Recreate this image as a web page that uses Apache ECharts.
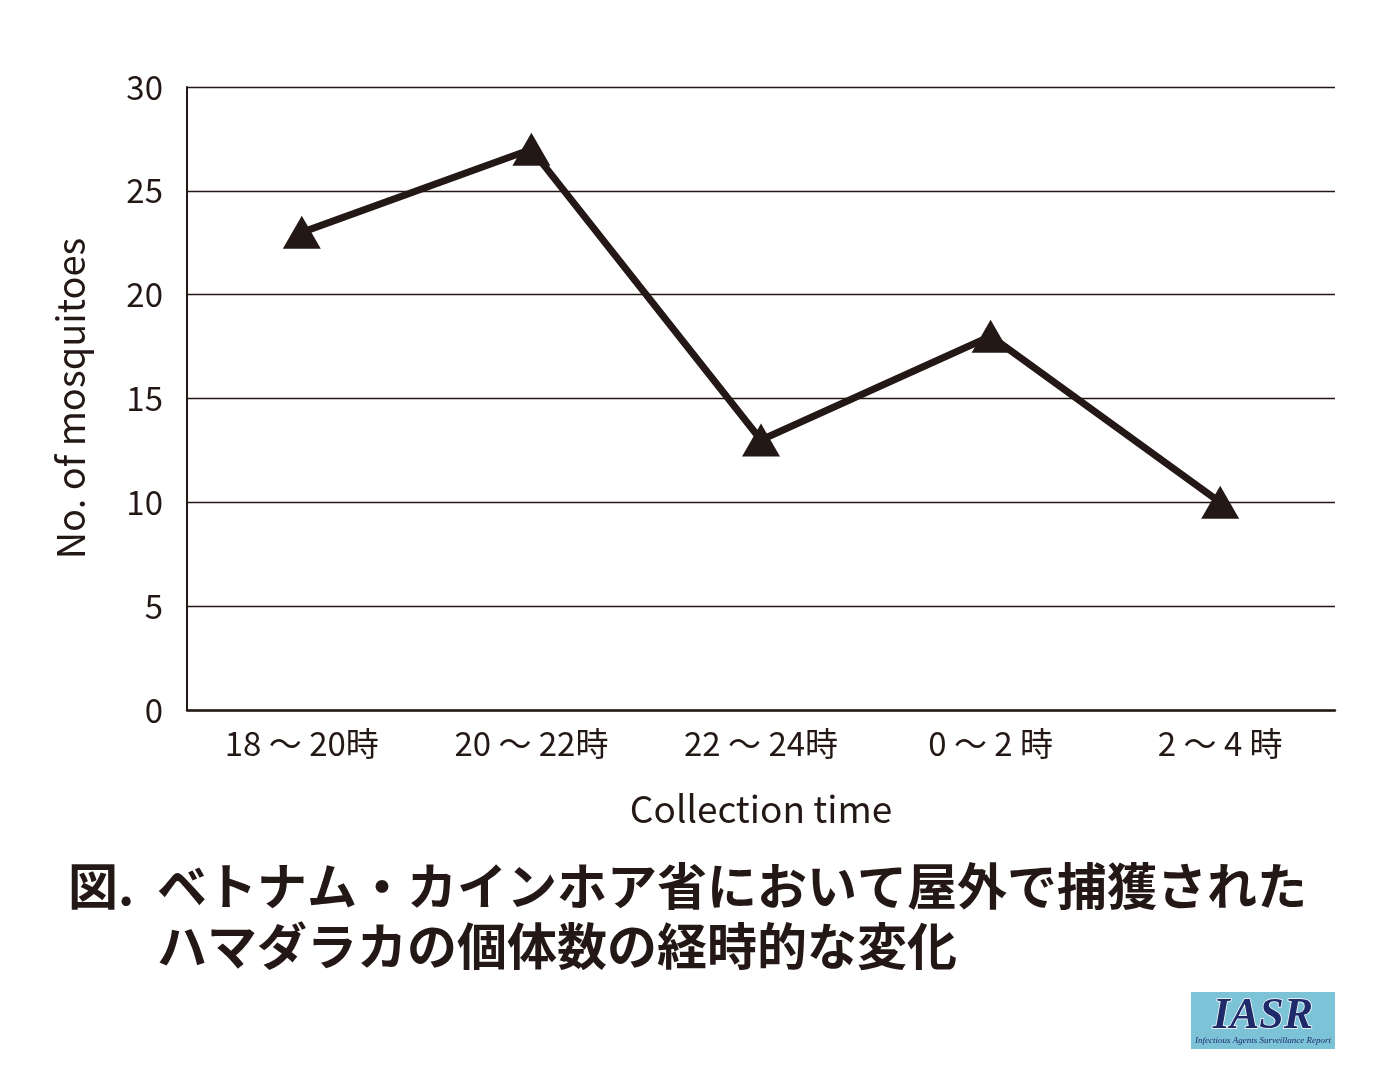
<!DOCTYPE html>
<html>
<head>
<meta charset="utf-8">
<script src="https://cdn.jsdelivr.net/npm/echarts@6/dist/echarts.min.js"></script>
<style>
  html, body { margin: 0; padding: 0; background: #fff; }
  #chart { width: 1388px; height: 1080px; }
</style>
</head>
<body>
<div id="chart"></div>
<script>
// collection time slots and counts
var categories = ['18 ～ 20時', '20 ～ 22時', '22 ～ 24時', '0 ～ 2 時', '2 ～ 4 時'];
var counts = [23, 27, 13, 18, 10];
var yTicks = { min: 0, max: 30, interval: 5 };

var titleLine1 = 'ベトナム・カインホア省において屋外で捕獲された';
var titleLine2 = 'ハマダラカの個体数の経時的な変化';

var ink = '#231815';
var font = '"Noto Sans CJK JP", "Noto Sans", sans-serif';

var chart = echarts.init(document.getElementById('chart'));

var option = {
    backgroundColor: '#fff',
    animation: false,
    grid: { left: 187, right: 53, top: 87, bottom: 370 },
    xAxis: {
        type: 'category',
        data: categories,
        boundaryGap: true,
        name: 'Collection time',
        nameLocation: 'middle',
        nameGap: 80,
        nameTextStyle: { color: ink, fontSize: 37, fontFamily: font },
        axisLine: { lineStyle: { color: ink, width: 2.5 } },
        axisTick: { show: false },
        axisLabel: { color: ink, fontSize: 33, fontFamily: font, margin: 17 }
    },
    yAxis: {
        type: 'value',
        min: yTicks.min,
        max: yTicks.max,
        interval: yTicks.interval,
        name: 'No. of mosquitoes',
        nameLocation: 'middle',
        nameGap: 97,
        nameTextStyle: { color: ink, fontSize: 38, fontFamily: font },
        axisLine: { show: true, lineStyle: { color: ink, width: 2 } },
        axisTick: { show: false },
        axisLabel: { color: ink, fontSize: 33, fontFamily: font, margin: 24 },
        splitLine: { lineStyle: { color: ink, width: 1.3 } }
    },
    series: [{
        type: 'line',
        data: counts,
        symbol: 'triangle',
        symbolSize: [38, 33],
        lineStyle: { color: ink, width: 7 },
        itemStyle: { color: ink },
        z: 5
    }],
    graphic: [
        {
            type: 'text', left: 68, top: 861,
            style: { text: '図.', fill: ink, font: 'bold 50px ' + font }
        },
        {
            type: 'text', left: 157, top: 861,
            style: { text: titleLine1, fill: ink, font: 'bold 50px ' + font }
        },
        {
            type: 'text', left: 157, top: 921,
            style: { text: titleLine2, fill: ink, font: 'bold 50px ' + font }
        },
        {
            type: 'group', left: 1191, top: 992,
            children: [
                {
                    type: 'rect',
                    shape: { x: 0, y: 0, width: 144, height: 57 },
                    style: { fill: '#7cc3d8' }
                },
                {
                    type: 'text', x: 72, y: 25,
                    style: {
                        text: 'IASR', fill: '#1f2a6b',
                        font: 'italic bold 44px "Liberation Serif", serif',
                        align: 'center', verticalAlign: 'middle',
                        stroke: '#fff', lineWidth: 1.5
                    }
                },
                {
                    type: 'text', x: 72, y: 49,
                    style: {
                        text: 'Infectious Agents Surveillance Report', fill: '#1f2a6b',
                        font: 'italic 9px "Liberation Serif", serif',
                        align: 'center', verticalAlign: 'middle'
                    }
                }
            ]
        }
    ]
};

chart.setOption(option);
</script>
</body>
</html>
